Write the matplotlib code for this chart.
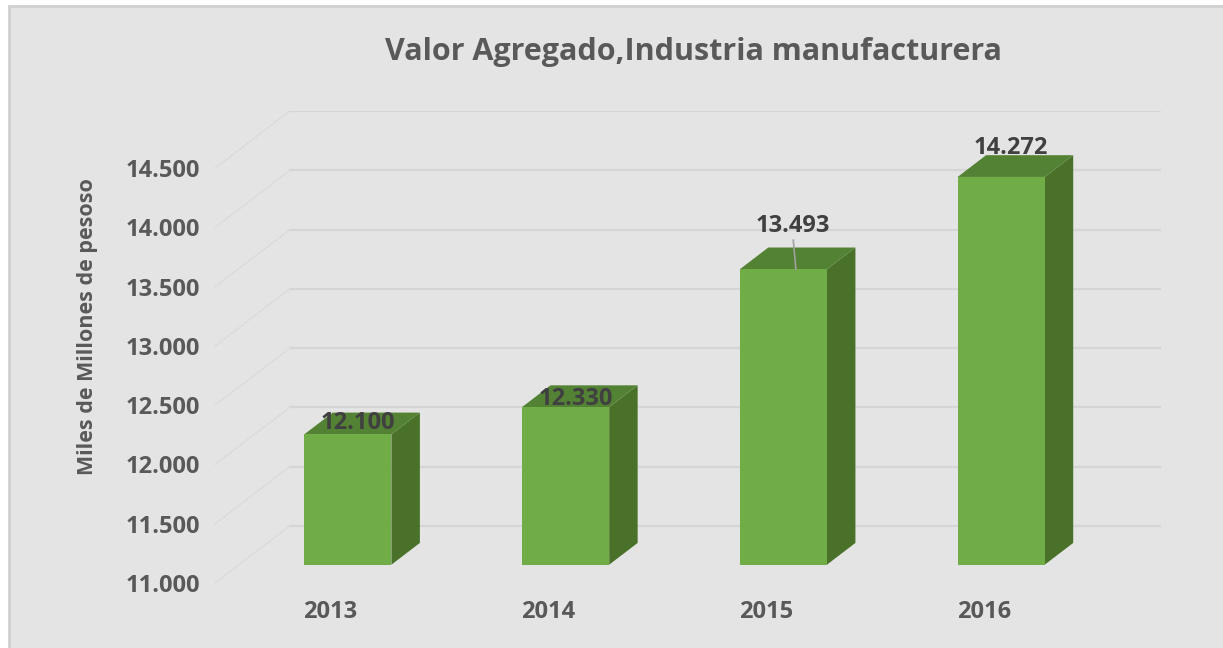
import matplotlib
matplotlib.use("Agg")
import matplotlib.pyplot as plt
import matplotlib.patches as mp
from matplotlib.ticker import FuncFormatter

# data
years = ['2013', '2014', '2015', '2016']
values = [12100, 12330, 13493, 14272]
yticks = [11000, 11500, 12000, 12500, 13000, 13500, 14000, 14500]
title = 'Valor Agregado,Industria manufacturera'
ylab = 'Miles de Millones de pesoso'

# pseudo 3D geometry (in data units)
depth_x = 0.344      # horizontal shift of the back wall, in categories
depth_y = 483.0      # vertical shift of the back wall, in value units
f0, f1 = 0.32, 0.70  # bar front / back as fraction of the depth
barw = 0.40
ymin = 11000
label_off = [250, 225, 520, 400]

front_c = '#70AD47'
side_c = '#4A7129'
top_c = '#548235'
grid_c = '#D5D5D5'
text_c = '#595959'
val_c = '#404040'
font = ['Open Sans', 'DejaVu Sans']

fig = plt.figure(figsize=(12.23, 6.48), dpi=100)
fig.patch.set_facecolor('white')
fig.patches.append(mp.Rectangle((8.5 / 1223, -0.01), 1.02, 1 - 5.5 / 648 + 0.01,
                                transform=fig.transFigure, facecolor='#E4E4E4',
                                edgecolor='#D0D0D0', linewidth=2, zorder=-10))

ax = fig.add_axes([215 / 1223, (648 - 583) / 648, (1161 - 215) / 1223, (583 - 111) / 648])
ax.set_facecolor('none')
ax.set_xlim(-0.5, len(years) - 0.5 + depth_x)
ax.set_ylim(ymin, yticks[-1] + depth_y)
for s in ax.spines.values():
    s.set_visible(False)

# gridlines: diagonal on the side wall, horizontal on the back wall
x0 = -0.5
x1 = len(years) - 0.5 + depth_x
for v in yticks:
    ax.plot([x0, x0 + depth_x], [v, v + depth_y], color='#CFCFCF', lw=0.8, ls=(0, (1, 1)), zorder=1)
    ax.plot([x0 + depth_x, x1], [v + depth_y, v + depth_y], color=grid_c, lw=1.6, zorder=1)

# bars
for i, v in enumerate(values):
    xl = i + f0 * depth_x - barw / 2
    xr = xl + barw
    b0 = ymin + f0 * depth_y
    t0 = v + f0 * depth_y
    ddx = (f1 - f0) * depth_x
    ddy = (f1 - f0) * depth_y
    ax.fill([xr, xr + ddx, xr + ddx, xr], [b0, b0 + ddy, t0 + ddy, t0], color=side_c, lw=0, zorder=3)
    ax.fill([xl, xr, xr + ddx, xl + ddx], [t0, t0, t0 + ddy, t0 + ddy], color=top_c, lw=0, zorder=3)
    ax.fill([xl, xr, xr, xl], [b0, b0, t0, t0], color=front_c, lw=0, zorder=4)

    lx = i + (f0 + f1) / 2 * depth_x - 0.02
    ly = v + label_off[i]
    ax.text(lx, ly, '{:,}'.format(v).replace(',', '.'), ha='center', va='center',
            fontsize=17, fontweight='bold', color=val_c, family=font, zorder=6)
    if i == 2:
        ax.plot([lx, lx + 0.012], [ly - 120, t0], color='#A0A0A0', lw=1.2, zorder=5)

# tick labels on the front plane
ax.set_yticks(yticks)
ax.yaxis.set_major_formatter(FuncFormatter(lambda v, p: '{:,.0f}'.format(v).replace(',', '.')))
ax.set_xticks([i + 0.03 for i in range(len(years))])
ax.set_xticklabels(years)
ax.tick_params(length=0, pad=11, labelsize=17, labelcolor=text_c)
for t in ax.get_xticklabels() + ax.get_yticklabels():
    t.set_fontweight('bold')
    t.set_family(font)
ax.tick_params(axis='x', pad=12)

fig.text(88 / 1223, 1 - 327 / 648, ylab, rotation=90, ha='center', va='center',
         fontsize=15.5, fontweight='bold', color=text_c, family=font)

fig.text(693 / 1223, 1 - 52 / 648, title, ha='center', va='center', fontsize=22,
         fontweight='bold', color=text_c, family=font)

fig.savefig('out.png', dpi=100)
